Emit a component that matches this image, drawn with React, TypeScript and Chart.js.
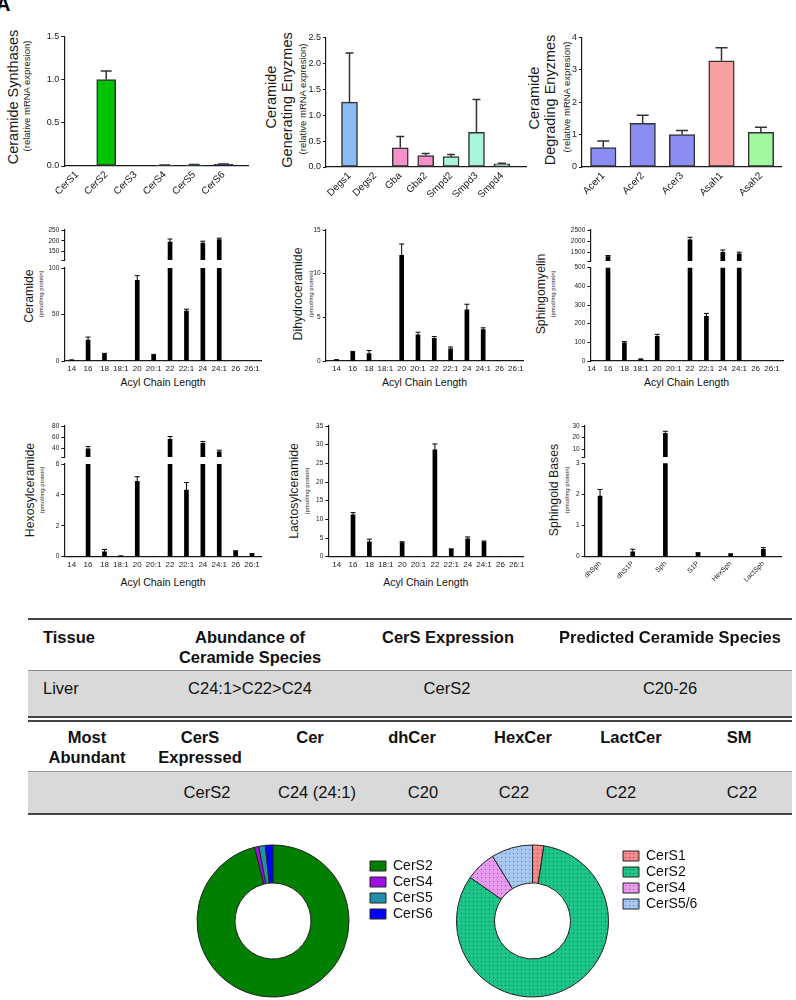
import React, { useEffect, useRef } from 'react';
import { Chart, registerables } from 'chart.js';

Chart.register(...registerables);

const FONT = "'Liberation Sans', Arial, Helvetica, sans-serif";
const INK = '#1a1a1a';

// ---------- Row 1: mRNA expression ----------
const cersLabels = ['CerS1', 'CerS2', 'CerS3', 'CerS4', 'CerS5', 'CerS6'];
const cersValues = [0, 1.0, 0, 0.008, 0.012, 0.018];
const cersErrors = [null, 1.1, null, 0.012, 0.016, 0.022];
const cersColors = ['#00c400', '#00c400', '#00c400', '#9b30d0', '#2898a8', '#1010e0'];

const genLabels = ['Degs1', 'Degs2', 'Gba', 'Gba2', 'Smpd2', 'Smpd3', 'Smpd4'];
const genValues = [1.25, 0, 0.37, 0.22, 0.2, 0.67, 0.06];
const genErrors = [2.2, null, 0.59, 0.26, 0.24, 1.3, 0.07];
const genColors = ['#8cbcf5', '#8cbcf5', '#f590c8', '#f590c8', '#a8f5dc', '#a8f5dc', '#a8f5dc'];

const degLabels = ['Acer1', 'Acer2', 'Acer3', 'Asah1', 'Asah2'];
const degValues = [0.6, 1.35, 1.0, 3.28, 1.07];
const degErrors = [0.8, 1.6, 1.13, 3.68, 1.23];
const degColors = ['#8c8cf5', '#8c8cf5', '#8c8cf5', '#f8a0a0', '#a0f8a0'];

// ---------- Rows 2-3: lipid species (pmol/mg protein) ----------
const acylLabels = ['14', '16', '18', '18:1', '20', '20:1', '22', '22:1', '24', '24:1', '26', '26:1'];

const cerValues = [0.8, 22.5, 7.1, 0, 86.8, 6.0, 194, 53.6, 189, 206, 0, 0];
const cerErrors = [1.2, 25.7, 8.2, null, 91.8, 7.1, 208, 55.7, 198, 212, null, null];

const dhcerValues = [0.1, 1.0, 0.85, 0, 12.1, 3.0, 2.6, 1.4, 5.85, 3.6, 0, 0];
const dhcerErrors = [0.15, 1.1, 1.2, null, 13.4, 3.3, 2.8, 1.6, 6.5, 3.8, null, null];

const smValues = [0, 1306, 98, 9, 132, 0, 2052, 239, 1500, 1425, 0, 0];
const smErrors = [null, 1350, 104, 11, 143, null, 2172, 255, 1600, 1500, null, null];

const hexValues = [0, 38.8, 0.32, 0.04, 4.88, 0, 56, 4.32, 48.9, 33.4, 0.37, 0.17];
const hexErrors = [null, 43, 0.47, 0.05, 5.18, null, 61, 4.8, 52.2, 36.4, 0.38, 0.2];

const lacValues = [0, 11.2, 4.0, 0, 3.75, 0, 28.6, 1.96, 4.8, 4.0, 0, 0];
const lacErrors = [null, 11.8, 4.7, null, 4.0, null, 30.2, 2.1, 5.3, 4.2, null, null];

const baseLabels = ['dhSph', 'dhS1P', 'Sph', 'S1P', 'HexSph', 'LactSph'];
const baseValues = [1.95, 0.16, 23.7, 0.11, 0.085, 0.24];
const baseErrors = [2.16, 0.24, 25.4, 0.13, 0.09, 0.29];

// ---------- Doughnuts ----------
const donut1Labels = ['CerS2', 'CerS4', 'CerS5', 'CerS6'];
const donut1Values = [96.1, 0.9, 1.4, 1.6];
const donut1Colors = ['#007f00', '#a010e0', '#2090a8', '#0000ff'];

const donut2Labels = ['CerS1', 'CerS2', 'CerS4', 'CerS5/6'];
const donut2Values = [2.4, 82.3, 6.5, 8.8];
const donut2Colors = ['#f28a8a', '#1fc488', '#e89af0', '#a6c8f2'];

// ---------- Table ----------
const tableHead1 = ['Tissue', 'Abundance of|Ceramide Species', 'CerS Expression', 'Predicted Ceramide Species'];
const tableRow1 = ['Liver', 'C24:1>C22>C24', 'CerS2', 'C20-26'];
const tableHead2 = ['Most|Abundant', 'CerS|Expressed', 'Cer', 'dhCer', 'HexCer', 'LactCer', 'SM'];
const tableRow2 = ['', 'CerS2', 'C24 (24:1)', 'C20', 'C22', 'C22', 'C22'];

type Err = number | null;

const errorBars = {
  id: 'errorBars',
  afterDatasetsDraw(chart: any) {
    const { ctx, chartArea } = chart;
    chart.data.datasets.forEach((ds: any, di: number) => {
      if (!ds.errors) return;
      const meta = chart.getDatasetMeta(di);
      const yScale = chart.scales[meta.yAxisID];
      ctx.save();
      ctx.beginPath();
      ctx.rect(chartArea.left, chartArea.top - 0.5, chartArea.right - chartArea.left, chartArea.bottom - chartArea.top + 0.5);
      ctx.clip();
      ctx.strokeStyle = ds.errorColor;
      ctx.lineWidth = ds.errorWidth;
      meta.data.forEach((bar: any, i: number) => {
        const e = ds.errors[i];
        if (e == null) return;
        const x = bar.x;
        const y0 = bar.y;
        const y1 = yScale.getPixelForValue(e);
        const hw = ds.capWidth / 2;
        ctx.beginPath();
        ctx.moveTo(x, y0);
        ctx.lineTo(x, y1);
        ctx.moveTo(x - hw, y1);
        ctx.lineTo(x + hw, y1);
        ctx.stroke();
      });
      ctx.restore();
    });
  },
};

interface BarSpec {
  L: number; T: number; R: number; B: number;
  yw: number; xh: number; pt: number; pr: number; pb: number;
  labels: string[]; values: number[]; errors: Err[];
  colors: string | string[]; border: string; borderWidth: number;
  xmin: number; xmax: number; ymin: number; ymax: number; yTicks: number[]; dec: number;
  bar: number; cap: number; errW: number; errColor: string;
  showX: boolean; rot: number; xFont: number; yFont: number; breakTick?: boolean;
}

function frame(s: BarSpec) {
  const left = Math.floor(s.L - s.yw);
  const top = Math.floor(s.T - s.pt);
  const width = Math.ceil(s.R + s.pr - left);
  const height = Math.ceil(s.B + s.xh + s.pb - top);
  return {
    left, top, width, height,
    yw: s.L - left, pt: s.T - top, pr: left + width - s.R, pb: top + height - s.B - s.xh,
  };
}

function barConfig(s: BarSpec, f: ReturnType<typeof frame>): any {
  const yTickValues = s.breakTick ? [s.ymin, ...s.yTicks] : s.yTicks;
  return {
    type: 'bar',
    data: {
      datasets: [{
        data: s.values.map((v, i) => ({ x: i, y: v })),
        backgroundColor: s.colors,
        borderColor: s.border,
        borderWidth: s.borderWidth,
        borderSkipped: false,
        barThickness: s.bar,
        clip: 0,
        errors: s.errors,
        capWidth: s.cap,
        errorWidth: s.errW,
        errorColor: s.errColor,
      }],
    },
    options: {
      animation: false,
      responsive: false,
      maintainAspectRatio: false,
      events: [],
      layout: { padding: { left: 0, top: f.pt, right: f.pr, bottom: f.pb } },
      plugins: { legend: { display: false }, tooltip: { enabled: false } },
      scales: {
        x: {
          type: 'linear',
          min: s.xmin,
          max: s.xmax,
          offset: false,
          display: s.showX,
          grid: { display: false, drawTicks: false, offset: false },
          border: { display: true, color: INK, width: 1.2 },
          ticks: {
            autoSkip: false,
            maxRotation: s.rot,
            minRotation: s.rot,
            padding: 3,
            color: INK,
            font: { size: s.xFont, family: FONT },
            callback: (v: number) => s.labels[Math.round(v)] ?? '',
          },
          afterBuildTicks: (ax: any) => { ax.ticks = s.labels.map((_, i) => ({ value: i })); },
          afterFit: (ax: any) => { ax.height = s.xh; },
        },
        y: {
          type: 'linear',
          min: s.ymin,
          max: s.ymax,
          grid: { display: true, drawOnChartArea: false, drawTicks: true, tickLength: 3, color: INK, lineWidth: 1 },
          border: { display: true, color: INK, width: 1.2 },
          ticks: {
            autoSkip: false,
            padding: 2,
            color: INK,
            font: { size: s.yFont, family: FONT },
            callback: (v: number) => (s.breakTick && v === s.ymin ? '' : Number(v).toFixed(s.dec)),
          },
          afterBuildTicks: (ax: any) => { ax.ticks = yTickValues.map((v) => ({ value: v })); },
          afterFit: (ax: any) => { ax.width = f.yw; },
        },
      },
    },
    plugins: [errorBars],
  };
}

function BarChart({ spec }: { spec: BarSpec }) {
  const ref = useRef<HTMLCanvasElement>(null);
  const f = frame(spec);
  useEffect(() => {
    const chart = new Chart(ref.current as HTMLCanvasElement, barConfig(spec, f));
    return () => chart.destroy();
  }, []);
  return (
    <canvas
      ref={ref}
      width={f.width}
      height={f.height}
      style={{ position: 'absolute', left: f.left, top: f.top, width: f.width, height: f.height }}
    />
  );
}

// Defaults for the two families of bar panels
const big = {
  yw: 30, xh: 30, pt: 6, pr: 10, pb: 0,
  border: '#333', borderWidth: 1.5, ymin: 0,
  errW: 1.5, errColor: '#333', showX: true, rot: 45, xFont: 10, yFont: 9,
};
const small = {
  yw: 25, pt: 6, border: '#000', borderWidth: 0, colors: '#000',
  bar: 4, cap: 5, errW: 1, errColor: '#000', xFont: 8, yFont: 6.5, dec: 0,
};
const topSeg = { ...small, xh: 0, pr: 4, pb: 5, showX: false, rot: 0, breakTick: true };
const botSeg = { ...small, xh: 16, pr: 12, pb: 0, showX: true, rot: 0, ymin: 0 };

const specs: BarSpec[] = [
  // Row 1
  { ...big, L: 64.3, T: 35, R: 248, B: 166, labels: cersLabels, values: cersValues, errors: cersErrors, colors: cersColors,
    xmin: -0.43, xmax: 5.84, ymax: 1.5, yTicks: [0, 0.5, 1, 1.5], dec: 1, bar: 19, cap: 11 },
  { ...big, L: 326, T: 36, R: 526, B: 167, labels: genLabels, values: genValues, errors: genErrors, colors: genColors,
    xmin: -0.925, xmax: 6.95, ymax: 2.5, yTicks: [0, 0.5, 1, 1.5, 2, 2.5], dec: 1, bar: 16, cap: 8 },
  { ...big, L: 582, T: 36, R: 781, B: 167, labels: degLabels, values: degValues, errors: degErrors, colors: degColors,
    xmin: -0.54, xmax: 4.51, ymax: 4, yTicks: [0, 1, 2, 3, 4], dec: 0, bar: 25.5, cap: 12 },
  // Row 2
  { ...topSeg, L: 64.3, T: 230, R: 261.7, B: 260.8, labels: acylLabels, values: cerValues, errors: cerErrors,
    xmin: -0.45, xmax: 11.59, ymin: 110, ymax: 250, yTicks: [150, 200, 250] },
  { ...botSeg, L: 64.3, T: 268, R: 261.7, B: 361, labels: acylLabels, values: cerValues, errors: cerErrors,
    xmin: -0.45, xmax: 11.59, ymax: 100, yTicks: [0, 50, 100] },
  { ...botSeg, L: 325.7, T: 230, R: 523.3, B: 361, labels: acylLabels, values: dhcerValues, errors: dhcerErrors,
    xmin: -0.66, xmax: 11.46, ymax: 15, yTicks: [0, 5, 10, 15] },
  { ...topSeg, L: 590.3, T: 230, R: 783, B: 261.2, labels: acylLabels, values: smValues, errors: smErrors,
    xmin: -0.08, xmax: 11.67, ymin: 1100, ymax: 2500, yTicks: [1500, 2000, 2500] },
  { ...botSeg, L: 590.3, T: 267.7, R: 783, B: 361, labels: acylLabels, values: smValues, errors: smErrors,
    xmin: -0.08, xmax: 11.67, ymax: 500, yTicks: [0, 100, 200, 300, 400, 500] },
  // Row 3
  { ...topSeg, L: 64.3, T: 426, R: 261.7, B: 457.2, labels: acylLabels, values: hexValues, errors: hexErrors,
    xmin: -0.45, xmax: 11.59, ymin: 24, ymax: 80, yTicks: [40, 60, 80] },
  { ...botSeg, L: 64.3, T: 464, R: 261.7, B: 556.7, labels: acylLabels, values: hexValues, errors: hexErrors,
    xmin: -0.45, xmax: 11.59, ymax: 6, yTicks: [0, 2, 4, 6] },
  { ...botSeg, L: 328.3, T: 426, R: 523.3, B: 556.7, labels: acylLabels, values: lacValues, errors: lacErrors,
    xmin: -0.51, xmax: 11.4, ymax: 35, yTicks: [0, 5, 10, 15, 20, 25, 30, 35] },
  { ...topSeg, L: 584.7, T: 426, R: 781, B: 457.5, labels: baseLabels, values: baseValues, errors: baseErrors,
    xmin: -0.47, xmax: 5.54, ymin: 3, ymax: 30, yTicks: [10, 20, 30] },
  { ...botSeg, L: 584.7, T: 463.3, R: 781, B: 556.7, labels: baseLabels, values: baseValues, errors: baseErrors,
    xmin: -0.47, xmax: 5.54, ymax: 3, yTicks: [0, 1, 2, 3], xh: 30, rot: 45, xFont: 7 },
] as BarSpec[];

// ---------- Doughnut ----------
interface DonutSpec {
  L: number; R: number; T: number; B: number; legendW: number; pr: number; titleH: number;
  labels: string[]; values: number[]; colors: string[]; dotted: boolean;
}

function dotPattern(ctx: CanvasRenderingContext2D, color: string) {
  const c = document.createElement('canvas');
  c.width = 4; c.height = 4;
  const g = c.getContext('2d') as CanvasRenderingContext2D;
  g.fillStyle = color;
  g.fillRect(0, 0, 4, 4);
  g.fillStyle = 'rgba(0,0,0,0.4)';
  g.fillRect(1, 1, 1, 1);
  return ctx.createPattern(c, 'repeat');
}

function Donut({ spec }: { spec: DonutSpec }) {
  const ref = useRef<HTMLCanvasElement>(null);
  const left = Math.floor(spec.L);
  const top = Math.floor(spec.T);
  const width = Math.ceil(spec.R - left + spec.legendW + spec.pr);
  const height = Math.ceil(spec.B - top + 2);
  const pt = spec.T - top;
  const pb = top + height - spec.B;
  const pl = spec.L - left;
  const pr = left + width - spec.R - spec.legendW;
  useEffect(() => {
    const canvas = ref.current as HTMLCanvasElement;
    const ctx = canvas.getContext('2d') as CanvasRenderingContext2D;
    const bg = spec.dotted ? spec.colors.map((c) => dotPattern(ctx, c)) : spec.colors;
    const chart = new Chart(canvas, {
      type: 'doughnut',
      data: {
        labels: spec.labels,
        datasets: [{ data: spec.values, backgroundColor: bg as any, borderColor: '#222', borderWidth: 1 }],
      },
      options: {
        animation: false,
        responsive: false,
        maintainAspectRatio: false,
        events: [],
        cutout: '50%',
        radius: 76,
        layout: { padding: { left: pl, top: pt, right: pr, bottom: pb } },
        plugins: {
          tooltip: { enabled: false },
          legend: {
            position: 'right',
            align: 'start',
            maxWidth: spec.legendW,
            labels: { boxWidth: 16, boxHeight: 10, padding: 2, color: '#111', font: { size: 14, family: FONT } },
            title: { display: true, text: '', font: { size: 1, lineHeight: 1 }, padding: { top: spec.titleH - 1, bottom: 0 } } as any,
          },
        },
      } as any,
    });
    return () => chart.destroy();
  }, []);
  return (
    <canvas ref={ref} width={width} height={height}
      style={{ position: 'absolute', left, top, width, height }} />
  );
}

const donuts: DonutSpec[] = [
  { L: 178, R: 368, T: 844.5, B: 997.5, legendW: 70, pr: 20, titleH: 12.5,
    labels: donut1Labels, values: donut1Values, colors: donut1Colors, dotted: false },
  { L: 444, R: 621, T: 844.5, B: 997.5, legendW: 82, pr: 20, titleH: 2.5,
    labels: donut2Labels, values: donut2Values, colors: donut2Colors, dotted: true },
];

// ---------- Text helpers ----------
function VText({ x, y, size, text }: { x: number; y: number; size: number; text: string }) {
  return (
    <div style={{
      position: 'absolute', left: x, top: y, transform: 'translate(-50%,-50%) rotate(-90deg)',
      fontSize: size, lineHeight: 1, whiteSpace: 'nowrap', color: INK, fontFamily: FONT,
    }}>{text}</div>
  );
}

function HText({ x, y, size, text, bold, align }: { x: number; y: number; size: number; text: string; bold?: boolean; align?: 'left' | 'center' }) {
  return (
    <div style={{
      position: 'absolute', left: x, top: y,
      transform: align === 'left' ? 'translate(0,-50%)' : 'translate(-50%,-50%)',
      fontSize: size, lineHeight: 1, whiteSpace: 'nowrap', color: '#111', fontFamily: FONT,
      fontWeight: bold ? 'bold' : 'normal',
    }}>{text}</div>
  );
}

const yTitles: { x: number; y: number; size: number; text: string }[] = [
  { x: 12.7, y: 97, size: 14.5, text: 'Ceramide Synthases' },
  { x: 27, y: 96, size: 9.5, text: '(relative mRNA expresion)' },
  { x: 270.7, y: 97, size: 14.5, text: 'Ceramide' },
  { x: 286.7, y: 100, size: 14.5, text: 'Generating Enyzmes' },
  { x: 302.7, y: 99, size: 9.5, text: '(relative mRNA expresion)' },
  { x: 534.3, y: 98, size: 14.5, text: 'Ceramide' },
  { x: 550.3, y: 100, size: 14.5, text: 'Degrading Enyzmes' },
  { x: 566.7, y: 97, size: 9.5, text: '(relative mRNA expresion)' },
  { x: 29.3, y: 296, size: 12.3, text: 'Ceramide' },
  { x: 40.5, y: 294, size: 6, text: '(pmol/mg protein)' },
  { x: 298.3, y: 294, size: 12.3, text: 'Dihydroceramide' },
  { x: 310.7, y: 294, size: 6, text: '(pmol/mg protein)' },
  { x: 541, y: 294, size: 12.3, text: 'Sphingomyelin' },
  { x: 552.7, y: 294, size: 6, text: '(pmol/mg protein)' },
  { x: 30, y: 490, size: 12.3, text: 'Hexosylceramide' },
  { x: 41.7, y: 490, size: 6, text: '(pmol/mg protein)' },
  { x: 294.3, y: 491, size: 12.3, text: 'Lactosylceramide' },
  { x: 306.7, y: 491, size: 6, text: '(pmol/mg protein)' },
  { x: 554.3, y: 490, size: 12.3, text: 'Sphingoid Bases' },
  { x: 566.7, y: 490, size: 6, text: '(pmol/mg protein)' },
];

const xTitles = [
  { x: 163, y: 382 }, { x: 424.5, y: 382 }, { x: 686.6, y: 382 },
  { x: 163, y: 582 }, { x: 425.8, y: 582 },
];

const head1X = [43, 250, 448, 670];
const row1X = [43, 250, 447, 670];
const head2X = [87, 200, 310, 412, 523, 631, 739];
const row2X = [87, 207, 317, 423, 514, 621, 742];

function Table() {
  const line = (top: number, h: number, color = '#444') => (
    <div style={{ position: 'absolute', left: 28, top, width: 764, height: h, background: color }} />
  );
  const multi = (t: string, x: number, y: number, bold: boolean, align: 'left' | 'center') => {
    const parts = t.split('|');
    return parts.map((p, j) => (
      <HText key={p + j} x={x} y={y + j * 19.5} size={16.5} text={p} bold={bold} align={align} />
    ));
  };
  return (
    <>
      {line(617.5, 2)}
      {tableHead1.map((t, i) => <React.Fragment key={'h1' + i}>{multi(t, head1X[i], 637, true, i === 0 ? 'left' : 'center')}</React.Fragment>)}
      <div style={{ position: 'absolute', left: 28, top: 670, width: 764, height: 46, background: '#d9d9d9' }} />
      {line(669.5, 1, '#8a8a8a')}
      {tableRow1.map((t, i) => <HText key={'r1' + i} x={row1X[i]} y={688} size={16.5} text={t} align={i === 0 ? 'left' : 'center'} />)}
      {line(716, 1.5)}
      {line(720, 1.5)}
      {tableHead2.map((t, i) => <React.Fragment key={'h2' + i}>{multi(t, head2X[i], 737, true, 'center')}</React.Fragment>)}
      <div style={{ position: 'absolute', left: 28, top: 771.5, width: 764, height: 41.5, background: '#d9d9d9' }} />
      {line(771, 1, '#9a9a9a')}
      {tableRow2.map((t, i) => <HText key={'r2' + i} x={row2X[i]} y={792} size={16.5} text={t} align="center" />)}
      {line(812.5, 2)}
    </>
  );
}

export default function App() {
  return (
    <div style={{
      position: 'absolute', left: 0, top: 0, width: 796, height: 1000, overflow: 'hidden',
      background: '#fff', fontFamily: FONT,
    }}>
      <div style={{ position: 'absolute', left: -4, top: -7, fontSize: 20, fontWeight: 'bold', color: '#000', fontFamily: FONT }}>A</div>
      {yTitles.map((t, i) => <VText key={'yt' + i} {...t} />)}
      {xTitles.map((t, i) => <HText key={'xt' + i} x={t.x} y={t.y} size={10.5} text="Acyl Chain Length" />)}
      {specs.map((s, i) => <BarChart key={'b' + i} spec={s} />)}
      <Table />
      {donuts.map((d, i) => <Donut key={'d' + i} spec={d} />)}
    </div>
  );
}
